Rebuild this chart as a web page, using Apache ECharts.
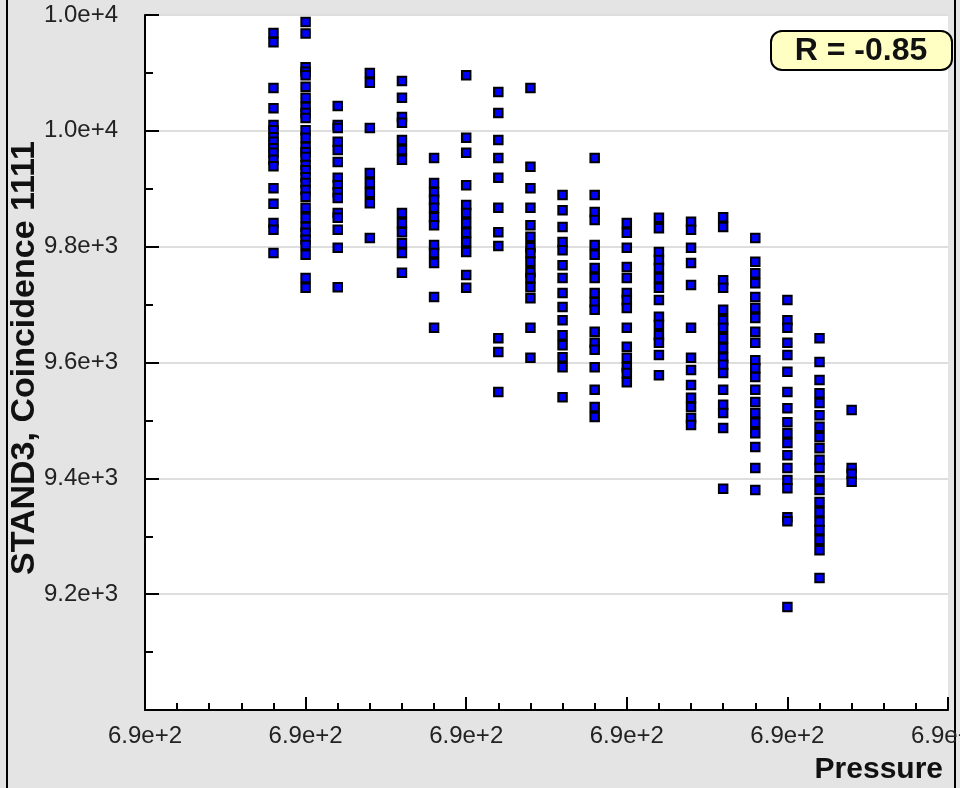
<!DOCTYPE html>
<html>
<head>
<meta charset="utf-8">
<script src="https://cdn.jsdelivr.net/npm/echarts@6/dist/echarts.min.js"></script>
<style>
  html, body { margin: 0; padding: 0; background: #e4e4e4; }
  #chart { width: 960px; height: 788px; }
</style>
</head>
<body>
<div id="chart"></div>
<script>
// Pressure levels (one column of readings per level)
const pressures = [688.8, 689.0, 689.2, 689.4, 689.6, 689.8, 690.0, 690.2, 690.4, 690.6,
                   690.8, 691.0, 691.2, 691.4, 691.6, 691.8, 692.0, 692.2, 692.4];

// STAND3 coincidence 1111 counts recorded at each pressure level
const p6888 = [10169, 10153, 10074, 10039, 10010, 10001, 9989, 9981, 9970, 9962, 9950, 9939, 9901, 9874, 9841, 9829, 9789];
const p6890 = [10188, 10168, 10110, 10102, 10096, 10076, 10057, 10041, 10031, 10022, 10001, 9988, 9972, 9963, 9955, 9941, 9932, 9920, 9910, 9898, 9886, 9867, 9850, 9834, 9824, 9812, 9803, 9786, 9746, 9729];
const p6892 = [10043, 10010, 10005, 9981, 9967, 9946, 9919, 9906, 9894, 9884, 9858, 9850, 9829, 9798, 9730];
const p6894 = [10100, 10083, 10005, 9927, 9910, 9893, 9875, 9815];
const p6896 = [10086, 10057, 10024, 10014, 9984, 9967, 9950, 9858, 9841, 9825, 9806, 9789, 9755];
const p6898 = [9953, 9910, 9894, 9881, 9867, 9851, 9837, 9803, 9789, 9772, 9713, 9660];
const p6900 = [10096, 9988, 9962, 9906, 9872, 9858, 9841, 9824, 9808, 9791, 9751, 9729];
const p6902 = [10067, 10031, 9984, 9953, 9919, 9867, 9825, 9801, 9642, 9618, 9549];
const p6904 = [10074, 9938, 9901, 9867, 9837, 9817, 9799, 9789, 9774, 9756, 9746, 9730, 9711, 9660, 9608];
const p6906 = [9889, 9863, 9834, 9808, 9794, 9768, 9746, 9720, 9696, 9673, 9647, 9630, 9609, 9592, 9540];
const p6908 = [9953, 9889, 9860, 9846, 9803, 9786, 9763, 9746, 9720, 9704, 9691, 9653, 9634, 9622, 9592, 9553, 9523, 9506];
const p6910 = [9841, 9824, 9798, 9765, 9746, 9720, 9708, 9694, 9660, 9627, 9608, 9592, 9582, 9566];
const p6912 = [9850, 9832, 9791, 9777, 9763, 9746, 9729, 9708, 9679, 9665, 9647, 9634, 9613, 9578];
const p6914 = [9843, 9829, 9798, 9772, 9734, 9660, 9608, 9587, 9561, 9539, 9523, 9504, 9492];
const p6916 = [9851, 9834, 9742, 9729, 9691, 9673, 9660, 9642, 9625, 9608, 9596, 9582, 9553, 9527, 9513, 9487, 9382];
const p6918 = [9815, 9774, 9754, 9737, 9713, 9694, 9677, 9653, 9634, 9604, 9590, 9575, 9553, 9532, 9513, 9496, 9478, 9454, 9418, 9380];
const p6920 = [9708, 9673, 9660, 9634, 9613, 9584, 9549, 9521, 9497, 9478, 9461, 9440, 9418, 9397, 9383, 9333, 9326, 9178];
const p6922 = [9642, 9601, 9570, 9547, 9530, 9509, 9489, 9471, 9452, 9432, 9418, 9397, 9380, 9359, 9342, 9325, 9311, 9294, 9276, 9228];
const p6924 = [9518, 9418, 9408, 9394];

const columns = [p6888, p6890, p6892, p6894, p6896, p6898, p6900, p6902, p6904, p6906,
                 p6908, p6910, p6912, p6914, p6916, p6918, p6920, p6922, p6924];

// Correlation coefficient shown in the badge
const rValue = -0.85;

// Axis ranges and tick steps
const xRange = [688, 693], xStep = 1;
const yRange = [9000, 10200], yStep = 200;

const points = [];
columns.forEach((col, i) => col.forEach(v => points.push([pressures[i], v])));

const FONT = "'Liberation Sans', Arial, Helvetica, sans-serif";
const expFmt = v => Number(v).toExponential(1);

const chart = echarts.init(document.getElementById('chart'));
chart.setOption({
  backgroundColor: '#e4e4e4',
  animation: false,
  grid: {
    left: 145, right: 12, top: 15, bottom: 78,
    containLabel: false, outerBoundsMode: 'none',
    show: true, backgroundColor: '#ffffff', borderWidth: 0
  },
  xAxis: {
    type: 'value',
    min: xRange[0], max: xRange[1], interval: xStep,
    axisLine: { show: true, onZero: false, lineStyle: { color: '#000', width: 2 } },
    axisTick: { show: true, inside: true, length: 13, lineStyle: { color: '#000', width: 2 } },
    minorTick: { show: true, splitNumber: 5, length: 7, lineStyle: { color: '#000', width: 2 } },
    axisLabel: { formatter: expFmt, fontFamily: FONT, fontSize: 24, color: '#222', margin: 14 },
    splitLine: { show: false }
  },
  yAxis: {
    type: 'value',
    min: yRange[0], max: yRange[1], interval: yStep,
    axisLine: { show: true, onZero: false, lineStyle: { color: '#000', width: 2 } },
    axisTick: { show: true, inside: true, length: 14, lineStyle: { color: '#000', width: 2 } },
    minorTick: { show: true, splitNumber: 2, length: 8, lineStyle: { color: '#000', width: 2 } },
    axisLabel: { formatter: expFmt, showMinLabel: false, fontFamily: FONT, fontSize: 24, color: '#222', margin: 27 },
    splitLine: { show: true, lineStyle: { color: '#dedede', width: 2 } }
  },
  series: [{
    type: 'scatter',
    data: points,
    symbol: 'rect',
    symbolSize: 8.5,
    itemStyle: { color: '#0000ff', borderColor: '#000', borderWidth: 2, opacity: 1 }
  }],
  graphic: [
    // outer frame sides
    { type: 'rect', shape: { x: 6, y: 0, width: 2, height: 788 }, style: { fill: '#000' }, silent: true },
    { type: 'rect', shape: { x: 954, y: 0, width: 2, height: 788 }, style: { fill: '#000' }, silent: true },
    // y-axis title (rotated)
    {
      type: 'text', x: 25, y: 358, rotation: Math.PI / 2,
      style: { text: 'STAND3, Coincidence 1111', fontFamily: FONT, fontSize: 34, fontWeight: 'bold',
               fill: '#111', align: 'center', verticalAlign: 'middle' }
    },
    // x-axis title
    {
      type: 'text', right: 17, top: 755,
      style: { text: 'Pressure', fontFamily: FONT, fontSize: 30, fontWeight: 'bold', fill: '#111' }
    },
    // correlation badge
    {
      type: 'group', left: 770, top: 30,
      children: [
        { type: 'rect', shape: { x: 0, y: 0, width: 181, height: 39, r: 11 },
          style: { fill: '#ffffc4', stroke: '#000', lineWidth: 2 } },
        { type: 'text', x: 90, y: 20,
          style: { text: 'R = ' + rValue.toFixed(2), fontFamily: FONT, fontSize: 32, fontWeight: 'bold',
                   fill: '#111', align: 'center', verticalAlign: 'middle' } }
      ]
    }
  ]
});
</script>
</body>
</html>
